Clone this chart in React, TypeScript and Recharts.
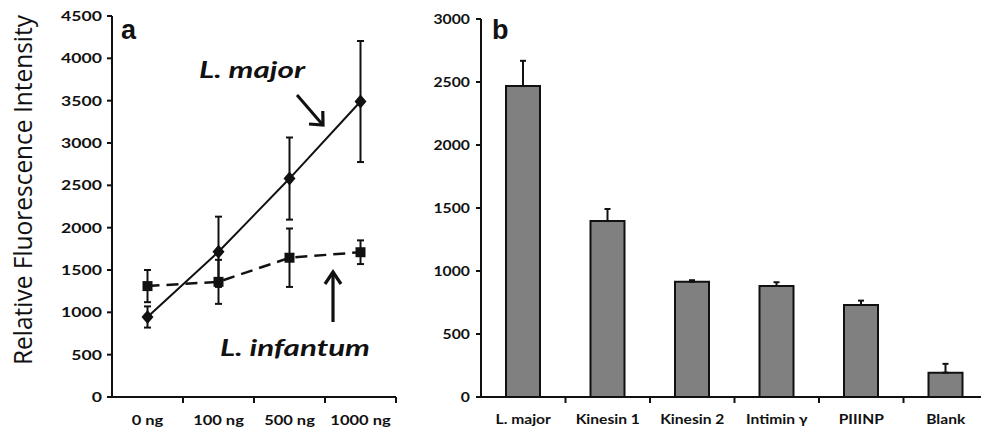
import React from "react";
import { Bar, BarChart, ComposedChart, ErrorBar, Line, XAxis, YAxis } from "recharts";

// panel a: dose response
const doses = ["0 ng", "100 ng", "500 ng", "1000 ng"];
const majorMean = [945, 1715, 2580, 3490];
const majorErr = [125, 415, 485, 715];
const infantumMean = [1310, 1360, 1645, 1710];
const infantumErr = [190, 260, 345, 140];
const ticksA = [0, 500, 1000, 1500, 2000, 2500, 3000, 3500, 4000, 4500];

// panel b: antigen comparison
const antigens = ["L. major", "Kinesin 1", "Kinesin 2", "Intimin γ", "PIIINP", "Blank"];
const antigenMean = [2468, 1397, 915, 881, 730, 193];
const antigenErr = [200, 95, 12, 30, 35, 70];
const ticksB = [0, 500, 1000, 1500, 2000, 2500, 3000];

const INK = "#111";
const TICK_FONT = "Lato, 'Open Sans', sans-serif";
const STRETCH = 1.26; // the scanned figure is wider than it is tall

const dataA = doses.map((dose, i) => ({
  dose,
  major: majorMean[i],
  majorErr: majorErr[i],
  infantum: infantumMean[i],
  infantumErr: infantumErr[i],
}));

const dataB = antigens.map((name, i) => ({
  name,
  value: antigenMean[i],
  err: [0, antigenErr[i]],
}));

function YTick(props: any) {
  const { x, y, payload, size } = props;
  return (
    <g transform={`translate(${x},${y}) scale(${STRETCH},1)`}>
      <text x={0} y={0} dy="0.36em" textAnchor="end" fontFamily={TICK_FONT} fontWeight={700} fontSize={size} fill={INK}>
        {payload.value}
      </text>
    </g>
  );
}

// Excel style category axis: label in the middle of the band, tick mark on its right edge
function XTick(props: any) {
  const { x, y, payload, halfBand, baseline, size, stretch } = props;
  return (
    <g>
      <line x1={x + halfBand} x2={x + halfBand} y1={y} y2={y + 6} stroke={INK} strokeWidth={2} />
      <g transform={`translate(${x},${y + baseline}) scale(${stretch},1)`}>
        <text x={0} y={0} textAnchor="middle" fontFamily={TICK_FONT} fontWeight={700} fontSize={size} fill={INK}>
          {payload.value}
        </text>
      </g>
    </g>
  );
}

function Diamond(props: any) {
  const { cx, cy } = props;
  if (cx == null || cy == null) return null;
  return <path d={`M${cx},${cy - 7} L${cx + 6},${cy} L${cx},${cy + 7} L${cx - 6},${cy} Z`} fill={INK} />;
}

function Square(props: any) {
  const { cx, cy } = props;
  if (cx == null || cy == null) return null;
  return <rect x={cx - 5} y={cy - 5} width={10} height={10} fill={INK} />;
}

function PanelA() {
  return (
    <ComposedChart width={420} height={434} data={dataA} margin={{ top: 16, right: 24, bottom: 7, left: 0 }}>
      <XAxis
        dataKey="dose"
        scale="band"
        height={30}
        axisLine={{ stroke: INK, strokeWidth: 2 }}
        tickLine={false}
        tickSize={0}
        tickMargin={0}
        interval={0}
        tick={(p: any) => <XTick {...p} halfBand={35.5} baseline={28} size={14} stretch={1.18} />}
      />
      <YAxis
        width={112}
        domain={[0, 4500]}
        ticks={ticksA}
        interval={0}
        axisLine={{ stroke: INK, strokeWidth: 2 }}
        tickLine={{ stroke: INK, strokeWidth: 2 }}
        tickSize={5}
        tickMargin={5}
        tick={(p: any) => <YTick {...p} size={14} />}
      />
      <Line
        dataKey="major"
        stroke={INK}
        strokeWidth={2}
        dot={(p: any) => <Diamond key={`d${p.index}`} {...p} />}
        activeDot={false}
        isAnimationActive={false}
      >
        <ErrorBar dataKey="majorErr" width={3.5} stroke={INK} strokeWidth={2} isAnimationActive={false} />
      </Line>
      <Line
        dataKey="infantum"
        stroke={INK}
        strokeWidth={2.5}
        strokeDasharray="12 7"
        dot={(p: any) => <Square key={`s${p.index}`} {...p} />}
        activeDot={false}
        isAnimationActive={false}
      >
        <ErrorBar dataKey="infantumErr" width={3.5} stroke={INK} strokeWidth={2} isAnimationActive={false} />
      </Line>

      <text
        transform="translate(32,190) rotate(-90)"
        textAnchor="middle"
        fontFamily="'Open Sans', Lato, sans-serif"
        fontSize={25}
        fill={INK}
        textLength={350}
        lengthAdjust="spacingAndGlyphs"
      >
        Relative Fluorescence Intensity
      </text>
      <text x={121} y={39} fontFamily="'Liberation Sans', Arial, sans-serif" fontWeight={700} fontSize={27} fill={INK}>
        a
      </text>
      <text
        x={199}
        y={78}
        fontFamily={TICK_FONT}
        fontWeight={700}
        fontStyle="italic"
        fontSize={23}
        fill={INK}
        textLength={106}
        lengthAdjust="spacingAndGlyphs"
      >
        L. major
      </text>
      <text
        x={220}
        y={356}
        fontFamily={TICK_FONT}
        fontWeight={700}
        fontStyle="italic"
        fontSize={23}
        fill={INK}
        textLength={150}
        lengthAdjust="spacingAndGlyphs"
      >
        L. infantum
      </text>
      {/* annotation arrows */}
      <line x1={297} y1={95} x2={322} y2={124} stroke={INK} strokeWidth={3} />
      <polyline points="322.8,111 323,125 309,124" fill="none" stroke={INK} strokeWidth={3.2} strokeLinejoin="miter" />
      <line x1={333} y1={322} x2={333} y2={273} stroke={INK} strokeWidth={3.2} />
      <polyline points="325,284 333,272 341,284" fill="none" stroke={INK} strokeWidth={3.2} strokeLinejoin="miter" />
    </ComposedChart>
  );
}

function PanelB() {
  return (
    <BarChart width={575} height={434} data={dataB} margin={{ top: 19, right: 7, bottom: 7, left: 0 }}>
      <XAxis
        dataKey="name"
        height={30}
        axisLine={{ stroke: INK, strokeWidth: 2 }}
        tickLine={false}
        tickSize={0}
        tickMargin={0}
        interval={0}
        tick={(p: any) => <XTick {...p} halfBand={42.25} baseline={27} size={13} stretch={1.2} />}
      />
      <YAxis
        width={61}
        domain={[0, 3000]}
        ticks={ticksB}
        interval={0}
        axisLine={{ stroke: INK, strokeWidth: 2 }}
        tickLine={{ stroke: INK, strokeWidth: 2 }}
        tickSize={5}
        tickMargin={6}
        tick={(p: any) => <YTick {...p} size={12.5} />}
      />
      <Bar dataKey="value" barSize={34} fill="#808080" stroke={INK} strokeWidth={2} isAnimationActive={false}>
        <ErrorBar dataKey="err" width={3} stroke={INK} strokeWidth={2} isAnimationActive={false} />
      </Bar>
      <text x={72} y={39} fontFamily="'Liberation Sans', Arial, sans-serif" fontWeight={700} fontSize={27} fill={INK}>
        b
      </text>
    </BarChart>
  );
}

export default function App() {
  return (
    <div
      style={{
        position: "absolute",
        left: 0,
        top: 0,
        width: 981,
        height: 434,
        overflow: "hidden",
        background: "#fff",
      }}
    >
      <div style={{ position: "absolute", left: 0, top: 0 }}>
        <PanelA />
      </div>
      <div style={{ position: "absolute", left: 420, top: 0 }}>
        <PanelB />
      </div>
    </div>
  );
}
